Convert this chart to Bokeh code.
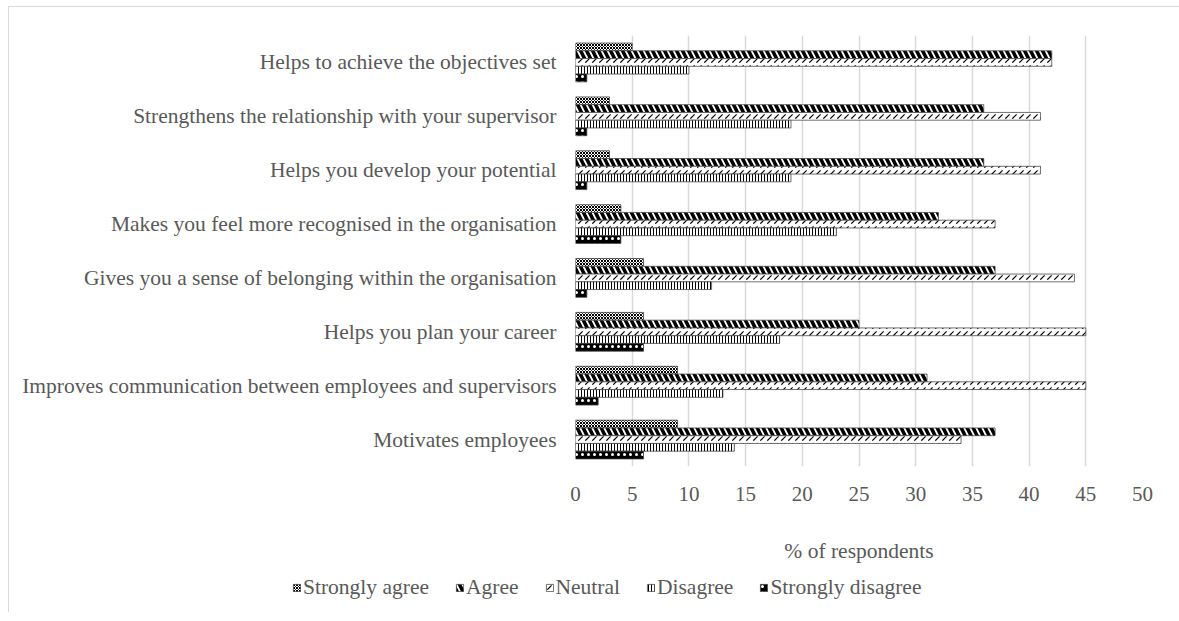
from bokeh.plotting import figure
from bokeh.layouts import column
from bokeh.models import (ColumnDataSource, FactorRange, Range1d, SingleIntervalTicker,
                          Legend, LegendItem)
from bokeh.transform import dodge
from bokeh.embed import file_html
from bokeh.resources import INLINE

# Statements, listed top to bottom
categories = [
    "Helps to achieve the objectives set",
    "Strengthens the relationship with your supervisor",
    "Helps you develop your potential",
    "Makes you feel more recognised in the organisation",
    "Gives you a sense of belonging within the organisation",
    "Helps you plan your career",
    "Improves communication between employees and supervisors",
    "Motivates employees",
]

# % of respondents per answer
strongly_agree = [5, 3, 3, 4, 6, 6, 9, 9]
agree = [42, 36, 36, 32, 37, 25, 31, 37]
neutral = [42, 41, 41, 37, 44, 45, 45, 34]
disagree = [10, 19, 19, 23, 12, 18, 13, 14]
strongly_disagree = [1, 1, 1, 4, 1, 6, 2, 6]

series_names = ["Strongly agree", "Agree", "Neutral", "Disagree", "Strongly disagree"]
x_ticks = [0, 5, 10, 15, 20, 25, 30, 35, 40, 45, 50]

TEXT = "#595959"
FONT = "Liberation Serif"
GRID = "#d9d9d9"

p = figure(
    width=1170, height=565,
    y_range=FactorRange(factors=list(reversed(categories))),
    x_range=Range1d(x_ticks[0], x_ticks[-1]),
    output_backend="svg", toolbar_location=None,
    min_border_left=566, min_border_right=37,
    min_border_top=28, min_border_bottom=106,
)
p.outline_line_color = None
p.background_fill_color = "white"
p.border_fill_color = "white"
p.frame_align = False

bar_h = 0.144
offsets = [2 * bar_h, bar_h, 0.0, -bar_h, -2 * bar_h]
values = [strongly_agree, agree, neutral, disagree, strongly_disagree]
styles = [
    dict(fill_color="white", hatch_pattern="x", hatch_color="black", hatch_scale=3, hatch_weight=1),
    dict(fill_color="white", hatch_pattern="\\", hatch_color="black", hatch_scale=12, hatch_weight=3.5),
    dict(fill_color="white", hatch_pattern=",", hatch_color="black", hatch_scale=7, hatch_weight=1.2),
    dict(fill_color="white", hatch_pattern="|", hatch_color="black", hatch_scale=3, hatch_weight=1),
    dict(fill_color="black", hatch_pattern=".", hatch_color="white", hatch_scale=6, hatch_weight=1.5),
]

sources = []
for name, vals, off, st in zip(series_names, values, offsets, styles):
    src = ColumnDataSource(dict(cat=categories, val=vals))
    sources.append(src)
    p.hbar(y=dodge("cat", off, range=p.y_range), left=0, right="val", height=bar_h,
           source=src, line_color="#404040", line_width=0.75, **st)

# axes
p.xaxis.ticker = SingleIntervalTicker(interval=5)
p.xaxis.axis_line_color = None
p.xaxis.major_tick_line_color = None
p.xaxis.minor_tick_line_color = None
p.xaxis.major_label_standoff = 14
p.xaxis.major_label_text_font = FONT
p.xaxis.major_label_text_font_size = "21px"
p.xaxis.major_label_text_color = TEXT
p.xaxis.axis_label = "% of respondents"
p.xaxis.axis_label_text_font = FONT
p.xaxis.axis_label_text_font_size = "21.5px"
p.xaxis.axis_label_text_font_style = "normal"
p.xaxis.axis_label_text_color = TEXT
p.xaxis.axis_label_standoff = 35

p.yaxis.axis_line_color = None
p.yaxis.major_tick_line_color = None
p.yaxis.minor_tick_line_color = None
p.yaxis.major_label_standoff = 13
p.yaxis.major_label_text_font = FONT
p.yaxis.major_label_text_font_size = "21.5px"
p.yaxis.major_label_text_color = TEXT

p.ygrid.grid_line_color = None
p.xgrid.grid_line_color = GRID
p.xgrid.grid_line_width = 1.5

# legend strip below the chart; its (hidden) renderers carry the bar styles
lg = figure(
    width=1170, height=40, x_range=Range1d(0, 50),
    y_range=FactorRange(factors=list(reversed(categories))),
    x_axis_type=None, y_axis_type=None, output_backend="svg", toolbar_location=None,
    min_border=0,
)
lg.frame_align = False
lg.outline_line_color = None
lg.grid.grid_line_color = None
items = []
for name, src, st in zip(series_names, sources, styles):
    r = lg.hbar(y="cat", left=0, right="val", height=bar_h, source=src,
                line_color="#404040", line_width=0.75, visible=False, **st)
    items.append(LegendItem(label=name, renderers=[r]))

legend = Legend(
    items=items, orientation="horizontal", location=(283, 12),
    glyph_width=9, glyph_height=9, label_standoff=2, spacing=26,
    padding=0, margin=0, border_line_color=None, background_fill_alpha=0,
    label_text_font=FONT, label_text_font_size="21.5px", label_text_color=TEXT,
)
lg.add_layout(legend, "center")

layout = column(p, lg, spacing=0)
layout.margin = (6, 0, 0, 8)
layout.styles = {"border-top": "1px solid #d9d9d9", "border-left": "1px solid #d9d9d9"}

open("out.html", "w").write(file_html(layout, INLINE))
